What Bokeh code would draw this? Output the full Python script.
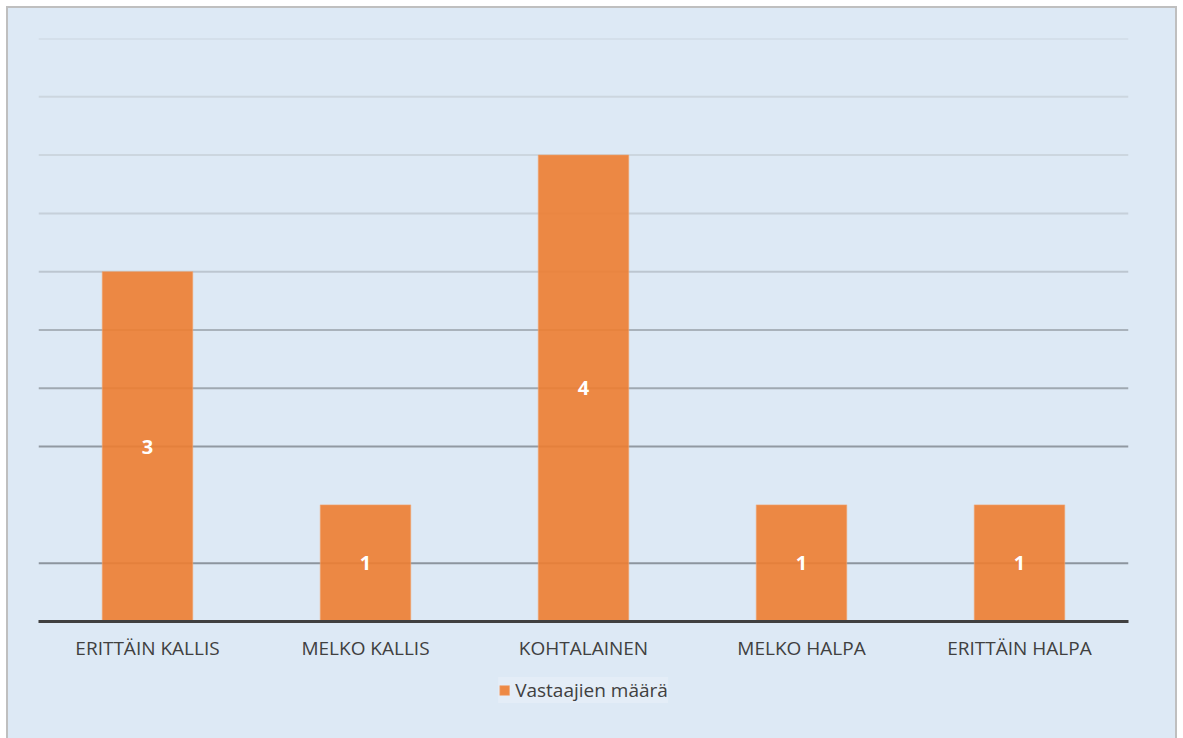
from bokeh.plotting import figure
from bokeh.layouts import column
from bokeh.models import ColumnDataSource, Span, Legend, LegendItem, Range1d
from bokeh.core.properties import value
from bokeh.embed import file_html
from bokeh.resources import INLINE

categories = ["ERITTÄIN KALLIS", "MELKO KALLIS", "KOHTALAINEN", "MELKO HALPA", "ERITTÄIN HALPA"]
counts = [3, 1, 4, 1, 1]
series_name = "Vastaajien määrä"
grid_values = [0.5, 1.5, 2.0, 2.5, 3.0, 3.5, 4.0, 4.5, 5.0]
grid_colors = ["#8c959e", "#9199a2", "#9fa8b1", "#a9b2bb", "#bcc6d0", "#c6d0da", "#ccd6df", "#ccd6df", "#ccd6df"]

BG = "#dde9f5"
FONT = "Open Sans"
BAR = dict(fill_color="#ed7d31", fill_alpha=0.9, line_color="#f2a36e", line_alpha=0.6, line_width=1)

src = ColumnDataSource(dict(
    cat=categories,
    val=counts,
    mid=[v / 2 for v in counts],
    lab=[str(v) for v in counts],
))

p = figure(x_range=categories, y_range=(0, 5), frame_width=1090, frame_height=583,
           output_backend="svg", toolbar_location=None,
           min_border_left=30, min_border_right=47, min_border_top=30, min_border_bottom=45)
p.background_fill_color = BG
p.border_fill_color = BG
p.outline_line_color = None
p.xgrid.grid_line_color = None
p.ygrid.grid_line_color = None
p.yaxis.visible = False
p.x_range.range_padding = 0

for gv, gc in zip(grid_values, grid_colors):
    p.add_layout(Span(location=gv, dimension="width", line_color=gc, line_width=2, level="underlay"))

r = p.vbar(x="cat", top="val", width=0.415, source=src, **BAR)

p.text(x="cat", y="mid", text="lab", source=src, text_color="white",
       text_font=value(FONT), text_font_style="bold", text_font_size="20px",
       text_align="center", text_baseline="middle")

ax = p.xaxis[0]
ax.axis_line_color = "#404040"
ax.axis_line_width = 3
ax.major_tick_line_color = None
ax.minor_tick_line_color = None
ax.major_label_text_font = FONT
ax.major_label_text_font_size = "19px"
ax.major_label_text_color = "#404040"
ax.major_label_standoff = 7

# legend strip below the chart
pl = figure(x_range=categories, y_range=Range1d(100, 101), width=1167, height=72,
            output_backend="svg", toolbar_location=None,
            min_border_left=0, min_border_right=0, min_border_top=0, min_border_bottom=0)
pl.background_fill_color = BG
pl.border_fill_color = BG
pl.outline_line_color = None
pl.axis.visible = False
pl.grid.visible = False
rl = pl.vbar(x="cat", top="val", width=0.415, source=src, **BAR)

legend = Legend(items=[LegendItem(label=series_name, renderers=[rl])],
                location="top_center", orientation="horizontal",
                background_fill_color="#e4edf7", background_fill_alpha=1,
                border_line_color=None, label_text_font=FONT,
                label_text_font_size="19px", label_text_color="#404040",
                glyph_width=12, glyph_height=12, padding=12, margin=11,
                label_standoff=5, spacing=0)
pl.add_layout(legend, "center")

layout = column(p, pl, spacing=0,
                styles={"margin-left": "6px", "margin-top": "6px",
                        "border-left": "2px solid #bfbfbf", "border-top": "2px solid #bfbfbf",
                        "border-right": "2px solid #bfbfbf", "background-color": BG})

open("out.html", "w").write(file_html(layout, INLINE))
